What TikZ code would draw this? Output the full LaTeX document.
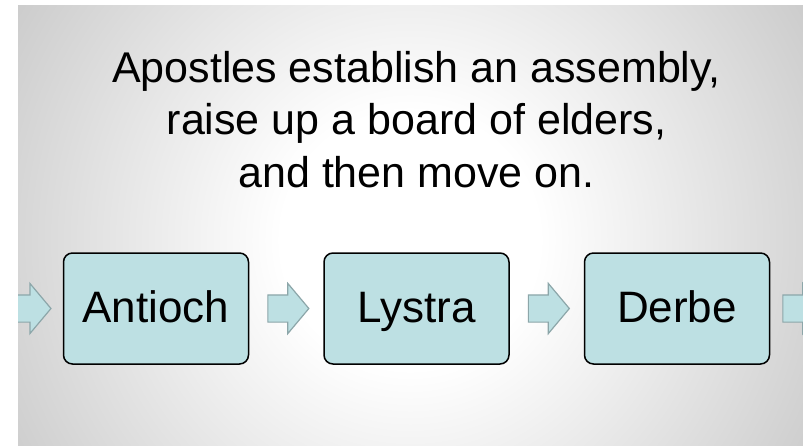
\documentclass[tikz,border=0pt]{standalone}
\usepackage{fontspec}
\setmainfont{Liberation Sans}
\usepackage{tikz}
\usetikzlibrary{calc,shapes.arrows,positioning}
\usepackage{xcolor}
\definecolor{boxcyan}{HTML}{BDE0E3}
\definecolor{arrowrim}{HTML}{8CA6A9}
\pgfdeclareradialshading{slideglow}{\pgfpoint{0bp}{0bp}}{color(0bp)=(white); color(7bp)=(white); color(25bp)=(black!20); color(43bp)=(black!43); color(50bp)=(black!52)}

\begin{document}
\begin{tikzpicture}[x=1pt,y=-1pt,
			headline/.style={font=\fontsize{43}{52.5}\selectfont, align=center},
			town/.style={draw=black, line width=1.5pt, fill=boxcyan, rounded corners=9pt,
				minimum width=185pt, minimum height=111pt, text height=34pt, text depth=7pt,
				font=\fontsize{44}{52}\selectfont},
			flow/.style={single arrow, draw=arrowrim, fill=boxcyan, line width=1.2pt,
				inner xsep=0pt, inner ysep=13pt, minimum height=41pt,
				single arrow head extend=11.5pt, single arrow head indent=0pt,
				single arrow tip angle=100}]
			\tikzstyle{every node}=[inner sep=0pt]
			\useasboundingbox (0,0) rectangle (803,445);
			\fill[white] (0,0) rectangle (803,445);
			\begin{scope}
			\clip (18,5) rectangle (803,445);
			\shade[shading=slideglow] (410,240) circle[radius=460pt];
			\node [headline, anchor=north] (heading) at (416.5,51)
			{Apostles establish an assembly,\\raise up a board of elders,\\and then move on.};
			\node [town] (antioch) at (156,308.5) {Antioch};
			\node [town, right=74pt of antioch] (lystra) {Lystra};
			\node [town, right=74pt of lystra] (derbe) {Derbe};
			\node [flow, left=11pt of antioch] (inflow) {};
			\node [flow, right=18pt of antioch] (hop1) {};
			\node [flow, right=18pt of lystra] (hop2) {};
			\node [flow, right=12pt of derbe] (outflow) {};
			\end{scope}
		\end{tikzpicture}
\end{document}
